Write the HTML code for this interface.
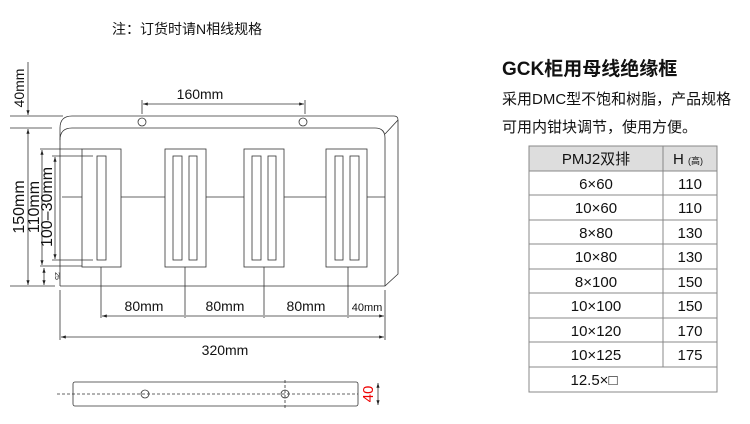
<!DOCTYPE html><html><head><meta charset="utf-8"><style>
body{margin:0;background:#fff;width:750px;height:424px;overflow:hidden;font-family:"Liberation Sans","Noto Sans CJK SC",sans-serif;}
</style></head><body>
<svg width="750" height="424" viewBox="0 0 750 424" style="position:absolute;left:0;top:0" font-family="Liberation Sans, Noto Sans CJK SC, sans-serif">
<defs><marker id="a" markerWidth="6" markerHeight="4" refX="6" refY="2" orient="auto-start-reverse"><path d="M0,0L6,2L0,4z" fill="#222"/></marker></defs>
<text x="112" y="34" font-size="14" fill="#111">注：订货时请N相线规格</text>
<text x="502" y="75" font-size="19" font-weight="bold" fill="#111">GCK柜用母线绝缘框</text>
<text x="502" y="104" font-size="15" fill="#111">采用DMC型不饱和树脂，产品规格</text>
<text x="502" y="132" font-size="15" fill="#111">可用内钳块调节，使用方便。</text>
<g stroke="#333" stroke-width="0.8" fill="none">
<path d="M60,286 V128 Q60,116 72,116 H394 Q398,116 398,120 V274 L385,286 H60"/>
<path d="M60,140 Q60,128 72,128 H375 Q385,128 385,138 V286"/>
<path d="M385,134 L398,120"/>
<circle cx="142" cy="122" r="4" fill="#fff"/><circle cx="303" cy="122" r="4" fill="#fff"/>
<path d="M62,197H82M121,197H165M206,197H244M284,197H326M367,197H385"/>
<rect x="82" y="149" width="39" height="118"/><rect x="97" y="156" width="9" height="104"/>
<rect x="165" y="149" width="41" height="118"/><rect x="173" y="156" width="9" height="104"/><rect x="189" y="156" width="8" height="104"/>
<rect x="244" y="149" width="40" height="118"/><rect x="252" y="156" width="9" height="104"/><rect x="268" y="156" width="8" height="104"/>
<rect x="326" y="149" width="41" height="118"/><rect x="335" y="156" width="8" height="104"/><rect x="350" y="156" width="9" height="104"/>
<path d="M101,267V318M185,267V318M264,267V318M348,267V318M60,290V340M385,290V340"/>
<path d="M142,100V114M305,100V114"/>
<path d="M10,116H63M10,128H52M10,286H55M40,149H82M52,156H93M52,260H93M40,266H82"/>
<path d="M28,62V115" marker-end="url(#a)"/>
<path d="M28,129V285" marker-start="url(#a)" marker-end="url(#a)"/>
<path d="M42,150V265" marker-start="url(#a)" marker-end="url(#a)"/>
<path d="M55,157V259" marker-start="url(#a)" marker-end="url(#a)"/>
<path d="M44,268V285" marker-start="url(#a)" marker-end="url(#a)"/>
<path d="M143,104H304" marker-start="url(#a)" marker-end="url(#a)"/>
<path d="M102,316H184M186,316H263M265,316H347M349,316H384" marker-start="url(#a)" marker-end="url(#a)"/>
<path d="M61,337H384" marker-start="url(#a)" marker-end="url(#a)"/>
<rect x="73" y="382" width="285" height="24" rx="2"/>
<path d="M57,394H358M285,380V408" stroke-dasharray="3,2"/>
<circle cx="145" cy="394" r="4"/><circle cx="285" cy="394" r="4"/>
<path d="M378,383V405" marker-start="url(#a)" marker-end="url(#a)"/>
</g>
<g font-size="14" fill="#111">
<text x="200" y="99" text-anchor="middle">160mm</text>
<text x="144" y="311" text-anchor="middle">80mm</text>
<text x="225" y="311" text-anchor="middle">80mm</text>
<text x="306" y="311" text-anchor="middle">80mm</text>
<text x="367" y="311" text-anchor="middle" font-size="11">40mm</text>
<text x="225" y="355" text-anchor="middle">320mm</text>
<text transform="translate(24,88) rotate(-90)" text-anchor="middle">40mm</text>
<text transform="translate(24,207) rotate(-90)" text-anchor="middle" font-size="16">150mm</text>
<text transform="translate(39,207) rotate(-90)" text-anchor="middle" font-size="16">110mm</text>
<text transform="translate(52,207) rotate(-90)" text-anchor="middle" font-size="16">100–30mm</text>
<text transform="translate(55,276) rotate(90)" text-anchor="middle" font-size="7">25</text>
<text transform="translate(373,394) rotate(-90)" text-anchor="middle" fill="#e00" font-size="15">40</text>
</g>
<g stroke="#888" stroke-width="1" fill="none">
<rect x="529" y="146" width="188" height="25" fill="#ddd"/>
<rect x="529" y="146" width="188" height="246"/>
<path d="M529,171H717M529,195H717M529,220H717M529,244H717M529,269H717M529,293H717M529,318H717M529,342H717M529,367H717M663,146V367"/>
</g>
<g font-size="15" fill="#111" text-anchor="middle">
<text x="596" y="164">PMJ2双排</text><text x="688" y="164">H <tspan font-size="9">(高)</tspan></text>
<text x="596" y="189">6×60</text><text x="690" y="189">110</text>
<text x="596" y="213">10×60</text><text x="690" y="213">110</text>
<text x="596" y="238">8×80</text><text x="690" y="238">130</text>
<text x="596" y="262">10×80</text><text x="690" y="262">130</text>
<text x="596" y="287">8×100</text><text x="690" y="287">150</text>
<text x="596" y="311">10×100</text><text x="690" y="311">150</text>
<text x="596" y="336">10×120</text><text x="690" y="336">170</text>
<text x="596" y="360">10×125</text><text x="690" y="360">175</text>
<text x="594" y="385">12.5×□</text>
</g>
</svg>
</body></html>
